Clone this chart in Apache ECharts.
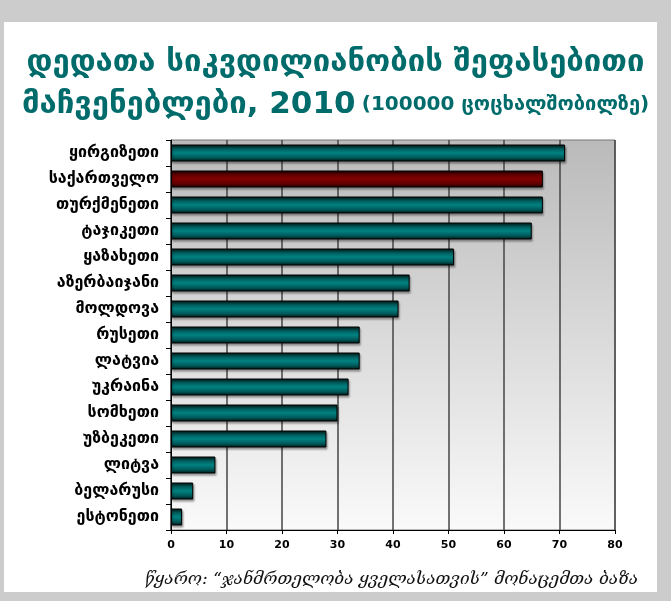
<!DOCTYPE html>
<html>
<head>
<meta charset="utf-8">
<script src="https://cdn.jsdelivr.net/npm/echarts@6/dist/echarts.min.js"></script>
<style>
  html, body { margin: 0; padding: 0; background: #cccccc; }
  #panel { position: absolute; left: 4px; top: 22px; width: 653px; height: 570px; background: #ffffff; }
  #chart { position: absolute; left: 0; top: 0; width: 671px; height: 601px; }
</style>
</head>
<body>
<div id="panel"></div>
<div id="chart"></div>
<script>
// Maternal mortality ratio estimates, 2010 (per 100 000 live births)
const countries = [
  'ყირგიზეთი', 'საქართველო', 'თურქმენეთი', 'ტაჯიკეთი', 'ყაზახეთი',
  'აზერბაიჯანი', 'მოლდოვა', 'რუსეთი', 'ლატვია', 'უკრაინა',
  'სომხეთი', 'უზბეკეთი', 'ლიტვა', 'ბელარუსი', 'ესტონეთი'
];
const values = [71, 67, 67, 65, 51, 43, 41, 34, 34, 32, 30, 28, 8, 4, 2];
const highlighted = 'საქართველო';
const titleLine1 = 'დედათა სიკვდილიანობის შეფასებითი';
const titleLine2 = 'მაჩვენებლები, 2010';
const titleUnit = '(100000 ცოცხალშობილზე)';
const sourceText = 'წყარო: “ჯანმრთელობა ყველასათვის” მონაცემთა ბაზა';

function tube(edge, mid, core) {
  return {
    type: 'linear', x: 0, y: 0, x2: 0, y2: 1,
    colorStops: [
      { offset: 0, color: edge },
      { offset: 0.22, color: mid },
      { offset: 0.5, color: core },
      { offset: 0.78, color: mid },
      { offset: 1, color: edge }
    ]
  };
}
const tealFill = tube('#001414', '#005858', '#008282');
const redFill = tube('#160000', '#600000', '#820000');

const chart = echarts.init(document.getElementById('chart'), null, { renderer: 'canvas' });

chart.setOption({
  backgroundColor: 'transparent',
  animation: false,
  textStyle: { fontFamily: 'DejaVu Sans' },
  title: [
    {
      text: titleLine1,
      left: 'center',
      top: 42,
      textStyle: { color: '#006b6b', fontSize: 31, fontWeight: 'bold', fontFamily: 'DejaVu Sans' }
    },
    {
      text: '{a|' + titleLine2 + '} {b|' + titleUnit + '}',
      left: 'center',
      top: 84,
      textStyle: {
        rich: {
          a: { color: '#006b6b', fontSize: 31, fontWeight: 'bold', fontFamily: 'DejaVu Sans' },
          b: { color: '#006b6b', fontSize: 20, fontWeight: 'bold', fontFamily: 'DejaVu Sans' }
        }
      }
    },
    {
      text: sourceText,
      right: 28,
      top: 566,
      textStyle: { color: '#111', fontSize: 17, fontWeight: 'normal', fontStyle: 'italic', fontFamily: 'DejaVu Serif' }
    }
  ],
  grid: {
    left: 171, right: 56, top: 140, bottom: 71,
    show: true,
    borderColor: '#777',
    borderWidth: 1,
    backgroundColor: {
      type: 'linear', x: 0, y: 0, x2: 0, y2: 1,
      colorStops: [
        { offset: 0, color: '#bababa' },
        { offset: 1, color: '#fafafa' }
      ]
    }
  },
  xAxis: {
    type: 'value',
    min: 0, max: 80, interval: 10,
    axisLine: { show: true, lineStyle: { color: '#000', width: 1 } },
    axisTick: { show: true, length: 4, lineStyle: { color: '#000' } },
    axisLabel: { color: '#000', fontWeight: 'bold', fontSize: 11, margin: 10 },
    splitLine: { show: true, lineStyle: { color: '#444', width: 1.5 } }
  },
  yAxis: {
    type: 'category',
    data: countries,
    inverse: true,
    axisLine: { show: true, lineStyle: { color: '#000', width: 1 } },
    axisTick: { show: true, length: 5, alignWithLabel: false, lineStyle: { color: '#000' } },
    axisLabel: { color: '#000', fontWeight: 'bold', fontSize: 16, margin: 12 }
  },
  series: [{
    type: 'bar',
    barWidth: 17,
    data: values.map((v, i) => ({
      value: v,
      itemStyle: { color: countries[i] === highlighted ? redFill : tealFill }
    })),
    itemStyle: {
      borderColor: '#000',
      borderWidth: 1,
      shadowColor: 'rgba(0,0,0,0.35)',
      shadowOffsetX: 1,
      shadowOffsetY: 2,
      shadowBlur: 2
    }
  }]
});
</script>
</body>
</html>
